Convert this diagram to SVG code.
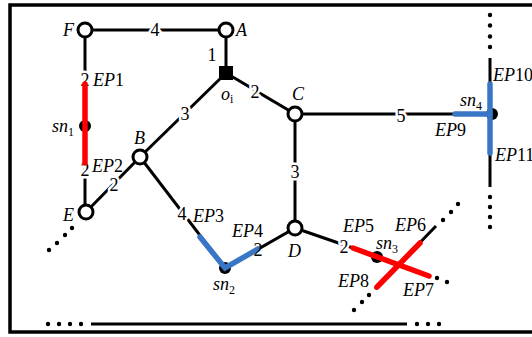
<svg xmlns="http://www.w3.org/2000/svg" width="532" height="337" viewBox="0 0 532 337">
<style>
.ln{stroke:#000;stroke-width:3;fill:none;stroke-linecap:butt}
.red{stroke:#ff0000;stroke-width:5.5;fill:none;stroke-linecap:round}
.blue{stroke:#3a76c6;stroke-width:5.5;fill:none;stroke-linecap:round}
.node{fill:#fff;stroke:#000;stroke-width:3}
.dot{fill:#000}
.sm{fill:#000}
text{font-family:"Liberation Serif","Times New Roman",serif;font-size:18px;fill:#000}
.it{font-style:italic}
.num{text-anchor:middle;stroke:#fff;stroke-width:5;paint-order:stroke;stroke-linejoin:round}
.sub{font-size:12px;font-style:normal}
</style>
<rect x="10" y="5" width="540" height="327" fill="none" stroke="#000" stroke-width="3.5"/>
<g id="connectors">
<line class="ln" x1="85" y1="30" x2="226" y2="30"/>
<line class="ln" x1="85" y1="30" x2="85" y2="212"/>
<line class="ln" x1="226" y1="30" x2="226" y2="73"/>
<line class="ln" x1="226" y1="73" x2="295" y2="114"/>
<line class="ln" x1="226" y1="73" x2="140" y2="157"/>
<line class="ln" x1="86" y1="212" x2="140" y2="157"/>
<line class="ln" x1="140" y1="157" x2="225" y2="268"/>
<line class="ln" x1="225" y1="268" x2="295" y2="228"/>
<line class="ln" x1="295" y1="114" x2="295" y2="228"/>
<line class="ln" x1="295" y1="114" x2="490" y2="114"/>
<line class="ln" x1="490" y1="58" x2="490" y2="187"/>
<line class="ln" x1="295" y1="228" x2="353" y2="248"/>
<line class="ln" x1="436" y1="226" x2="375" y2="289"/>
<line class="ln" x1="91" y1="324" x2="407" y2="324"/>
<g id="dots">
<circle class="sm" cx="490" cy="15" r="2.2"/><circle class="sm" cx="490" cy="25.5" r="2.2"/><circle class="sm" cx="490" cy="36.5" r="2.2"/><circle class="sm" cx="490" cy="47" r="2.2"/>
<circle class="sm" cx="490" cy="197" r="2.2"/><circle class="sm" cx="490" cy="207" r="2.2"/><circle class="sm" cx="490" cy="217" r="2.2"/><circle class="sm" cx="490" cy="227" r="2.2"/>
<circle class="sm" cx="72" cy="228" r="2.2"/><circle class="sm" cx="65" cy="235" r="2.2"/><circle class="sm" cx="57" cy="243" r="2.2"/><circle class="sm" cx="49" cy="250" r="2.2"/>
<circle class="sm" cx="443" cy="220" r="2.2"/><circle class="sm" cx="451" cy="212" r="2.2"/><circle class="sm" cx="458" cy="204" r="2.2"/>
<circle class="sm" cx="437" cy="278" r="2.2"/><circle class="sm" cx="447" cy="282" r="2.2"/>
<circle class="sm" cx="369" cy="295" r="2.2"/><circle class="sm" cx="362" cy="302" r="2.2"/><circle class="sm" cx="354" cy="310" r="2.2"/>
<circle class="sm" cx="48" cy="324" r="2.2"/><circle class="sm" cx="59" cy="324" r="2.2"/><circle class="sm" cx="70" cy="324" r="2.2"/><circle class="sm" cx="81" cy="324" r="2.2"/>
<circle class="sm" cx="417" cy="324" r="2.2"/><circle class="sm" cx="428" cy="324" r="2.2"/><circle class="sm" cx="439" cy="324" r="2.2"/>
</g>
<g id="edge-labels">
<text class="num" x="155" y="36">4</text>
<text class="num" x="212" y="61">1</text>
<text class="num" x="255" y="98">2</text>
<text class="num" x="185" y="120">3</text>
<text class="num" x="85" y="86">2</text>
<text class="num" x="85" y="176">2</text>
<text class="num" x="114" y="191">2</text>
<text class="num" x="182" y="220">4</text>
<text class="num" x="295" y="178">3</text>
<text class="num" x="401" y="122">5</text>
<text class="num" x="344" y="253">2</text>
</g>
</g>
<g id="sn1">
<circle class="dot" cx="85" cy="126" r="6"/>
<line class="red" x1="85" y1="84" x2="85" y2="163"/>
<text class="it" x="52" y="132">sn<tspan class="sub" dy="4">1</tspan></text>
<text class="it" x="93" y="86">EP<tspan font-style="normal">1</tspan></text>
<text class="it" x="92" y="172">EP<tspan font-style="normal">2</tspan></text>
</g>
<g id="sn2">
<circle class="dot" cx="225" cy="268" r="6"/>
<polyline class="blue" points="200,237 225,268 258,249"/>
<text class="num" x="258" y="256" style="stroke-width:0">2</text>
<text class="it" x="213" y="290">sn<tspan class="sub" dy="4">2</tspan></text>
<text class="it" x="193" y="222">EP<tspan font-style="normal">3</tspan></text>
<text class="it" x="232" y="237">EP<tspan font-style="normal">4</tspan></text>
</g>
<g id="sn3">
<circle class="dot" cx="377" cy="257" r="6"/>
<line class="red" x1="353" y1="248" x2="429" y2="276"/>
<line class="red" x1="420" y1="243" x2="377" y2="287"/>
<text class="it" x="376" y="249">sn<tspan class="sub" dy="4">3</tspan></text>
<text class="it" x="343" y="232">EP<tspan font-style="normal">5</tspan></text>
<text class="it" x="395" y="231">EP<tspan font-style="normal">6</tspan></text>
<text class="it" x="403" y="296">EP<tspan font-style="normal">7</tspan></text>
<text class="it" x="338" y="287">EP<tspan font-style="normal">8</tspan></text>
</g>
<g id="sn4">
<circle class="dot" cx="492" cy="114" r="6"/>
<line class="blue" x1="455" y1="114" x2="490" y2="114"/>
<line class="blue" x1="490" y1="84" x2="490" y2="153"/>
<text class="it" x="460" y="106">sn<tspan class="sub" dy="4">4</tspan></text>
<text class="it" x="435" y="136">EP<tspan font-style="normal">9</tspan></text>
<text class="it" x="493" y="81">EP<tspan font-style="normal">10</tspan></text>
<text class="it" x="495" y="161">EP<tspan font-style="normal">11</tspan></text>
</g>
<g id="F"><circle class="node" cx="85" cy="30" r="7"/><text class="it" x="63" y="36">F</text></g>
<g id="A"><circle class="node" cx="226" cy="30" r="7"/><text class="it" x="236" y="36">A</text></g>
<g id="oi"><rect x="219" y="66" width="14" height="14" fill="#000"/><text class="it" x="221" y="100">o<tspan class="sub" font-style="italic" dy="3">i</tspan></text></g>
<g id="C"><circle class="node" cx="295" cy="114" r="7"/><text class="it" x="292" y="100">C</text></g>
<g id="B"><circle class="node" cx="140" cy="157" r="7"/><text class="it" x="134" y="144">B</text></g>
<g id="E"><circle class="node" cx="86" cy="212" r="7"/><text class="it" x="63" y="221">E</text></g>
<g id="D"><circle class="node" cx="295" cy="228" r="7"/><text class="it" x="288" y="257">D</text></g>
</svg>
